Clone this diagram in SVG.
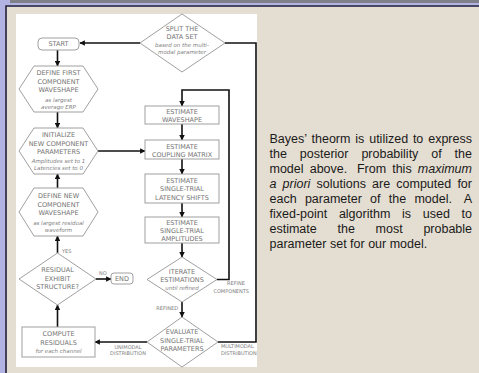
<svg xmlns="http://www.w3.org/2000/svg" width="479" height="373" viewBox="0 0 479 373">
<defs>
<marker id="ah" viewBox="0 0 10 10" refX="9" refY="5" markerWidth="3.4" markerHeight="3.4" orient="auto" markerUnits="strokeWidth">
<path d="M0,0 L10,5 L0,10 z" fill="#111"/>
</marker>
<clipPath id="panel"><rect x="16" y="14" width="241" height="353"/></clipPath>
</defs>
<style>
.sh{fill:#fff;stroke:#a0a0a0;stroke-width:1}
.t{font-family:"DejaVu Sans",sans-serif;font-size:6.5px;fill:#747474;text-anchor:middle}
.i{font-family:"DejaVu Sans",sans-serif;font-size:5.5px;font-style:italic;fill:#808080;text-anchor:middle}
.l{font-family:"DejaVu Sans",sans-serif;font-size:5px;fill:#808080}
.c{fill:none;stroke:#111;stroke-width:1.6}
.b{font-family:"Liberation Sans",Arial,sans-serif;font-size:12.5px;fill:#1a1a1a}
</style>
<rect width="479" height="373" fill="#b3b3e3"/>
<rect x="10" y="0" width="469" height="3" fill="#808088"/>
<rect x="7" y="7" width="472" height="366" fill="#e4ddd1"/>
<path d="M6,373 V6 H479" fill="none" stroke="#26263a" stroke-width="1.6"/>
<rect x="16" y="14" width="241" height="353" fill="#fff"/>

<g id="connectors" clip-path="url(#panel)">
<path class="c" d="M140,43 H80" marker-end="url(#ah)"/>
<path class="c" d="M57.5,50 V66" marker-end="url(#ah)"/>
<path class="c" d="M57.5,112 V128" marker-end="url(#ah)"/>
<path class="c" d="M98,151 H145" marker-end="url(#ah)"/>
<path class="c" d="M57.5,188 V174" marker-end="url(#ah)"/>
<path class="c" d="M57.5,253 V236" marker-end="url(#ah)"/>
<path class="c" d="M96,279 H111" marker-end="url(#ah)"/>
<path class="c" d="M57.5,327 V305" marker-end="url(#ah)"/>
<path class="c" d="M147,342 H95" marker-end="url(#ah)"/>
<path class="c" d="M218,342 H256 V43 H225"/>
<path class="c" d="M182,124 V140" marker-end="url(#ah)"/>
<path class="c" d="M182,159 V174" marker-end="url(#ah)"/>
<path class="c" d="M182,203 V217" marker-end="url(#ah)"/>
<path class="c" d="M182,243 V257" marker-end="url(#ah)"/>
<path class="c" d="M217,279.5 H229 V90 H182 V106" marker-end="url(#ah)"/>
<path class="c" d="M182,302 V317" marker-end="url(#ah)"/>
<text class="l" x="62" y="253">YES</text>
<text class="l" x="99" y="275">NO</text>
<text class="l" x="128" y="349" text-anchor="middle">UNIMODAL</text>
<text class="l" x="128" y="355" text-anchor="middle">DISTRIBUTION</text>
<text class="l" x="221" y="348">MULTIMODAL</text>
<text class="l" x="221" y="355">DISTRIBUTION</text>
<text class="l" x="245" y="285" text-anchor="end">REFINE</text>
<text class="l" x="249" y="293" text-anchor="end">COMPONENTS</text>
<text class="l" x="178" y="310" text-anchor="end">REFINED</text>
</g>

<g id="split">
<polygon class="sh" points="182,14 225,43 182,72 140,43"/>
<text class="t" x="182" y="31">SPLIT THE</text>
<text class="t" x="182" y="39">DATA SET</text>
<text class="i" x="182" y="47">based on the multi-</text>
<text class="i" x="182" y="54">modal parameter</text>
</g>
<g id="start">
<rect class="sh" x="38" y="38" width="41" height="12" rx="4"/>
<text class="t" x="58.5" y="46.3">START</text>
</g>
<g id="define-first">
<polygon class="sh" points="34,66 83,66 98,89 83,112 34,112 19,89"/>
<text class="t" x="58.5" y="75">DEFINE FIRST</text>
<text class="t" x="58.5" y="83.5">COMPONENT</text>
<text class="t" x="58.5" y="92">WAVESHAPE</text>
<text class="i" x="58.5" y="101.5">as largest</text>
<text class="i" x="58.5" y="108.5">average ERP</text>
</g>
<g id="initialize">
<polygon class="sh" points="34,128 83,128 98,151 83,174 34,174 19,151"/>
<text class="t" x="58.5" y="137">INITIALIZE</text>
<text class="t" x="58.5" y="145.5">NEW COMPONENT</text>
<text class="t" x="58.5" y="154">PARAMETERS</text>
<text class="i" x="58.5" y="163">Amplitudes set to 1</text>
<text class="i" x="58.5" y="170">Latencies set to 0</text>
</g>
<g id="define-new">
<polygon class="sh" points="34,188 83,188 98,212 83,236 34,236 19,212"/>
<text class="t" x="58.5" y="198">DEFINE NEW</text>
<text class="t" x="58.5" y="206.5">COMPONENT</text>
<text class="t" x="58.5" y="215">WAVESHAPE</text>
<text class="i" x="58.5" y="224.5">as largest residual</text>
<text class="i" x="58.5" y="231.5">waveform</text>
</g>
<g id="residual">
<polygon class="sh" points="57.5,253 96,279 57.5,305 19,279"/>
<text class="t" x="57.5" y="272">RESIDUAL</text>
<text class="t" x="57.5" y="280.5">EXHIBIT</text>
<text class="t" x="57.5" y="289">STRUCTURE?</text>
</g>
<g id="end">
<rect class="sh" x="111" y="273" width="22" height="11" rx="3"/>
<text class="t" x="122" y="280.8">END</text>
</g>
<g id="compute">
<rect class="sh" x="22" y="327" width="73" height="30"/>
<text class="t" x="58.5" y="336">COMPUTE</text>
<text class="t" x="58.5" y="344.5">RESIDUALS</text>
<text class="i" x="58.5" y="352.5">for each channel</text>
</g>
<g id="est-waveshape">
<rect class="sh" x="145" y="106" width="74" height="18"/>
<text class="t" x="182" y="114">ESTIMATE</text>
<text class="t" x="182" y="122">WAVESHAPE</text>
</g>
<g id="est-coupling">
<rect class="sh" x="145" y="140" width="74" height="19"/>
<text class="t" x="182" y="148.5">ESTIMATE</text>
<text class="t" x="182" y="156.5">COUPLING MATRIX</text>
</g>
<g id="est-latency">
<rect class="sh" x="145" y="174" width="74" height="29"/>
<text class="t" x="182" y="182.5">ESTIMATE</text>
<text class="t" x="182" y="191">SINGLE-TRIAL</text>
<text class="t" x="182" y="199.5">LATENCY SHIFTS</text>
</g>
<g id="est-amplitudes">
<rect class="sh" x="145" y="217" width="74" height="26"/>
<text class="t" x="182" y="225">ESTIMATE</text>
<text class="t" x="182" y="233">SINGLE-TRIAL</text>
<text class="t" x="182" y="241">AMPLITUDES</text>
</g>
<g id="iterate">
<polygon class="sh" points="182,257 217,279.5 182,302 147,279.5"/>
<text class="t" x="182" y="274">ITERATE</text>
<text class="t" x="182" y="282">ESTIMATIONS</text>
<text class="i" x="182" y="290">until refined</text>
</g>
<g id="evaluate">
<polygon class="sh" points="182,317 218,342 182,367 147,342"/>
<text class="t" x="182" y="334">EVALUATE</text>
<text class="t" x="182" y="342.5">SINGLE-TRIAL</text>
<text class="t" x="182" y="351">PARAMETERS</text>
</g>

<g id="description">
<text class="b" y="142.5"><tspan x="269.5">Bayes’</tspan><tspan x="311.5">theorm</tspan><tspan x="355.3">is</tspan><tspan x="369.2">utilized</tspan><tspan x="412.9">to</tspan><tspan x="428.2">express</tspan></text>
<text class="b" y="157.5"><tspan x="269.5">the</tspan><tspan x="299.8">posterior</tspan><tspan x="361.4">probability</tspan><tspan x="431.3">of</tspan><tspan x="454.6">the</tspan></text>
<text class="b" y="172.5"><tspan x="269.5">model</tspan><tspan x="309.7">above.</tspan><tspan x="356.9">From</tspan><tspan x="392.2">this</tspan><tspan x="417.8" font-style="italic">maximum</tspan></text>
<text class="b" y="187.5"><tspan x="269.5" font-style="italic">a</tspan><tspan x="282.6" font-style="italic">priori</tspan><tspan x="316.6">solutions</tspan><tspan x="372.1">are</tspan><tspan x="396.3">computed</tspan><tspan x="457.4">for</tspan></text>
<text class="b" y="202.5"><tspan x="269.5">each</tspan><tspan x="304.9">parameter</tspan><tspan x="370.1">of</tspan><tspan x="388.8">the</tspan><tspan x="414.4">model.</tspan><tspan x="463.7">A</tspan></text>
<text class="b" y="217.5"><tspan x="269.5">fixed-point</tspan><tspan x="338.9">algorithm</tspan><tspan x="402">is</tspan><tspan x="422.8">used</tspan><tspan x="461.6">to</tspan></text>
<text class="b" y="232.5"><tspan x="269.5">estimate</tspan><tspan x="337.5">the</tspan><tspan x="375.6">most</tspan><tspan x="423.4">probable</tspan></text>
<text class="b" x="269.5" y="247.5">parameter set for our model.</text>
</g>
</svg>
